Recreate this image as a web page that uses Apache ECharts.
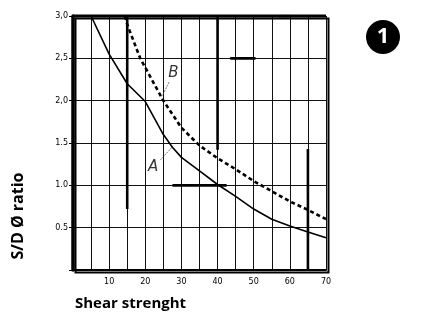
<!DOCTYPE html>
<html><head><meta charset="utf-8">
<script src="https://cdn.jsdelivr.net/npm/echarts@6/dist/echarts.min.js"></script>
<style>html,body{margin:0;padding:0;background:#fff}#c{width:421px;height:322px}</style>
</head><body><div id="c"></div>
<script>
// Curve A (solid): [shear strength, S/D ratio]
const curveA = [[5,3.0],[10,2.55],[15,2.2],[20,1.99],[25,1.6],[27.5,1.45],[30,1.33],[35,1.17],[40,1.01],[45,0.87],[50,0.72],[55,0.6],[60,0.52],[65,0.45],[70,0.38]];
// Curve B (dashed)
const curveB = [[14.4,3.0],[15,2.9],[18.6,2.5],[25,2.0],[30,1.68],[35,1.47],[40,1.32],[45,1.19],[50,1.05],[55,0.93],[60,0.81],[65,0.71],[70,0.6]];
// heavy scan strokes on the grid (axis units)
const heavyStrokes = [
  [[15,3.0],[15,0.72]],
  [[40,3.0],[40,1.42]],
  [[65,1.43],[65,0]],
  [[27.5,1.0],[42.5,1.0]],
  [[43.5,2.5],[50.5,2.5]],
  [[57,3.0],[60,3.0]]
];
const xTickLabels = {10:'10',20:'20',30:'30',40:'40',50:'50',60:'60',70:'70'};
const yTickLabels = {'0.5':'0.5','1':'1.0','1.5':'1.5','2':'2,0','2.5':'2,5','3':'3,0'};
const curveLabels = [
  {name:'A', at:[22.2,1.22], from:[24.2,1.3], tip:[27.6,1.46]},
  {name:'B', at:[27.8,2.32], from:[26.6,2.22], tip:[24.6,2.05]}
];

const chart = echarts.init(document.getElementById('c'));
const series = [
  {type:'line', data:curveA, symbol:'none', lineStyle:{color:'#000', width:1.6}, silent:true, z:5},
  {type:'line', data:curveB, symbol:'none', lineStyle:{color:'#000', width:2.6, type:[4,3]}, silent:true, z:5}
];
heavyStrokes.forEach(s => series.push({type:'line', data:s, symbol:'none', lineStyle:{color:'#000', width:2.6}, silent:true, z:4}));
curveLabels.forEach(l => {
  series.push({type:'line', data:[l.from, l.tip], symbol:'none', lineStyle:{color:'#444', width:0.7, type:[2,1]}, silent:true, z:4});
  series.push({type:'scatter', data:[l.at], symbolSize:0, silent:true,
    label:{show:true, formatter:l.name, position:'inside', fontFamily:'DejaVu Sans', fontStyle:'italic', fontSize:15, color:'#000'}});
});
chart.setOption({
  animation:false,
  grid:{left:73, top:16, right:95, bottom:52},
  xAxis:{type:'value', min:0, max:70, interval:5,
    axisLine:{show:true, lineStyle:{color:'#000', width:2}},
    axisTick:{show:false},
    splitLine:{show:true, lineStyle:{color:'#111', width:1}},
    axisLabel:{formatter:v => xTickLabels[v] || '', fontSize:8, color:'#000', fontFamily:'DejaVu Sans', margin:8}},
  yAxis:{type:'value', min:0, max:3, interval:0.5,
    axisLine:{show:true, lineStyle:{color:'#000', width:3.5}},
    axisTick:{show:true, length:4, inside:false, lineStyle:{color:'#000'}},
    splitLine:{show:true, lineStyle:{color:'#111', width:1}},
    axisLabel:{formatter:v => yTickLabels[String(v)] || '', fontSize:8, color:'#000', fontFamily:'DejaVu Sans', margin:5}},
  graphic:[
    {type:'rect', left:73, top:16, shape:{width:253, height:254}, style:{fill:'none', stroke:'#000', lineWidth:2}, z:10},
    {type:'line', shape:{x1:73,y1:16,x2:326,y2:16}, style:{stroke:'#000', lineWidth:3}, z:10},
    {type:'text', x:18, y:216, rotation:Math.PI/2, style:{text:'S/D Ø ratio', font:'bold 16px "Open Sans"', fill:'#000', align:'center', verticalAlign:'middle'}},
    {type:'text', x:75, y:296, style:{text:'Shear strenght', font:'bold 15px "Open Sans"', fill:'#000'}},
    {type:'circle', shape:{cx:383, cy:37, r:17}, style:{fill:'#000'}},
    {type:'text', x:383, y:37, style:{text:'1', font:'bold 22px "Open Sans"', fill:'#fff', align:'center', verticalAlign:'middle'}}
  ],
  series:series
});
</script></body></html>
